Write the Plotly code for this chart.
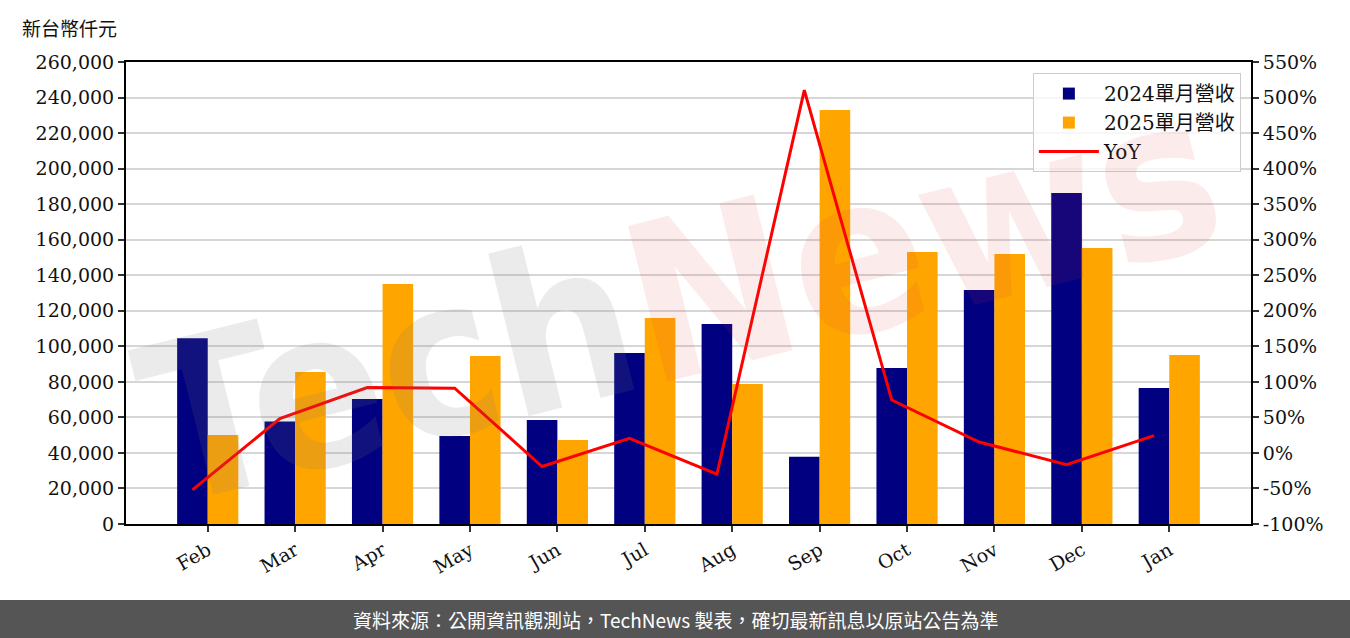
import plotly.graph_objects as go

months = ["Feb", "Mar", "Apr", "May", "Jun", "Jul", "Aug", "Sep", "Oct", "Nov", "Dec", "Jan"]
rev_2024 = [104500, 57700, 70400, 49500, 58500, 96200, 112600, 37900, 87800, 131700, 186300, 76500]
rev_2025 = [50100, 85500, 135100, 94600, 47300, 115900, 78800, 233000, 153100, 152000, 155300, 95100]
yoy = [-52.0, 48.2, 92.0, 91.1, -19.1, 20.5, -30.0, 510.5, 74.4, 15.4, -16.6, 24.3]

left_ticks = list(range(0, 260001, 20000))
right_ticks = list(range(-100, 551, 50))

idx = list(range(len(months)))
W = 0.35
serif = "DejaVu Serif, Noto Sans CJK TC"
cjk = "Noto Sans CJK TC"

fig = go.Figure()
fig.add_trace(go.Bar(x=idx, y=rev_2024, width=W, offset=-W, name="2024單月營收",
                     marker=dict(color="#000080", line=dict(width=0))))
fig.add_trace(go.Bar(x=idx, y=rev_2025, width=W, offset=0, name="2025單月營收",
                     marker=dict(color="#FFA500", line=dict(width=0))))
fig.add_trace(go.Scatter(x=[i - W / 2 for i in idx], y=yoy, yaxis="y2", mode="lines",
                         name="YoY", line=dict(color="#FF0000", width=3)))

fig.update_layout(
    width=1350, height=638,
    margin=dict(l=126, r=99, t=62, b=114),
    paper_bgcolor="white", plot_bgcolor="white",
    font=dict(family=serif, size=19, color="#111"),
    barmode="overlay",
    showlegend=True,
    legend=dict(x=0.991, y=0.976, xanchor="right", yanchor="top",
                bgcolor="rgba(255,255,255,0.8)", bordercolor="#cccccc", borderwidth=1,
                font=dict(family=serif, size=20), traceorder="normal",
                itemwidth=60, tracegroupgap=2),
    xaxis=dict(range=[-0.935, 11.935], tickmode="array", tickvals=idx, ticktext=months,
               tickangle=-30, showline=True, linecolor="black", linewidth=2, mirror=True,
               ticks="outside", ticklen=6, tickwidth=2, tickcolor="#333",
               showgrid=False, zeroline=False, tickfont=dict(family=serif, size=19)),
    yaxis=dict(range=[0, 260000], tickmode="array", tickvals=left_ticks,
               ticktext=[f"{v:,}" for v in left_ticks],
               showline=True, linecolor="black", linewidth=2,
               ticks="outside", ticklen=6, tickwidth=2, tickcolor="#333",
               showgrid=True, gridcolor="#d6d6d6", gridwidth=2, zeroline=False,
               tickfont=dict(family=serif, size=19)),
    yaxis2=dict(range=[-100, 550], tickmode="array", tickvals=right_ticks,
                ticktext=[f"{v}%" for v in right_ticks], overlaying="y", side="right",
                showline=True, linecolor="black", linewidth=2,
                ticks="outside", ticklen=6, tickwidth=2, tickcolor="#333",
                showgrid=False, zeroline=False, tickfont=dict(family=serif, size=19)),
)

# footer band
fig.add_shape(type="rect", xref="paper", yref="paper",
              x0=-126 / 1125, x1=1224 / 1125, y0=(524 - 640) / 462, y1=(524 - 600) / 462,
              fillcolor="#555555", line=dict(width=0), layer="above")
fig.add_annotation(xref="paper", yref="paper", x=(675 - 126) / 1125, y=(524 - 619) / 462,
                   text="資料來源：公開資訊觀測站，TechNews 製表，確切最新訊息以原站公告為準",
                   showarrow=False, font=dict(family=cjk, size=19, color="white"),
                   xanchor="center", yanchor="middle")

# unit label
fig.add_annotation(xref="paper", yref="paper", x=(20 - 126) / 1125, y=(524 - 27) / 462,
                   text="新台幣仟元", showarrow=False, xanchor="left", yanchor="middle",
                   font=dict(family=cjk, size=19, color="#111"))

# watermark
fig.add_annotation(xref="paper", yref="paper", x=(680 - 126) / 1125, y=(524 - 300) / 462,
                   text="<b><span style='color:rgba(120,120,120,0.15)'>Tech</span>"
                        "<span style='color:rgba(220,60,60,0.10)'>News</span></b>",
                   showarrow=False, textangle=-14,
                   font=dict(family="DejaVu Sans Condensed, DejaVu Sans", size=220))

fig.write_html("out.html", config={"displayModeBar": False},
               post_script="document.body.style.margin='0';document.body.style.overflow='hidden';")
